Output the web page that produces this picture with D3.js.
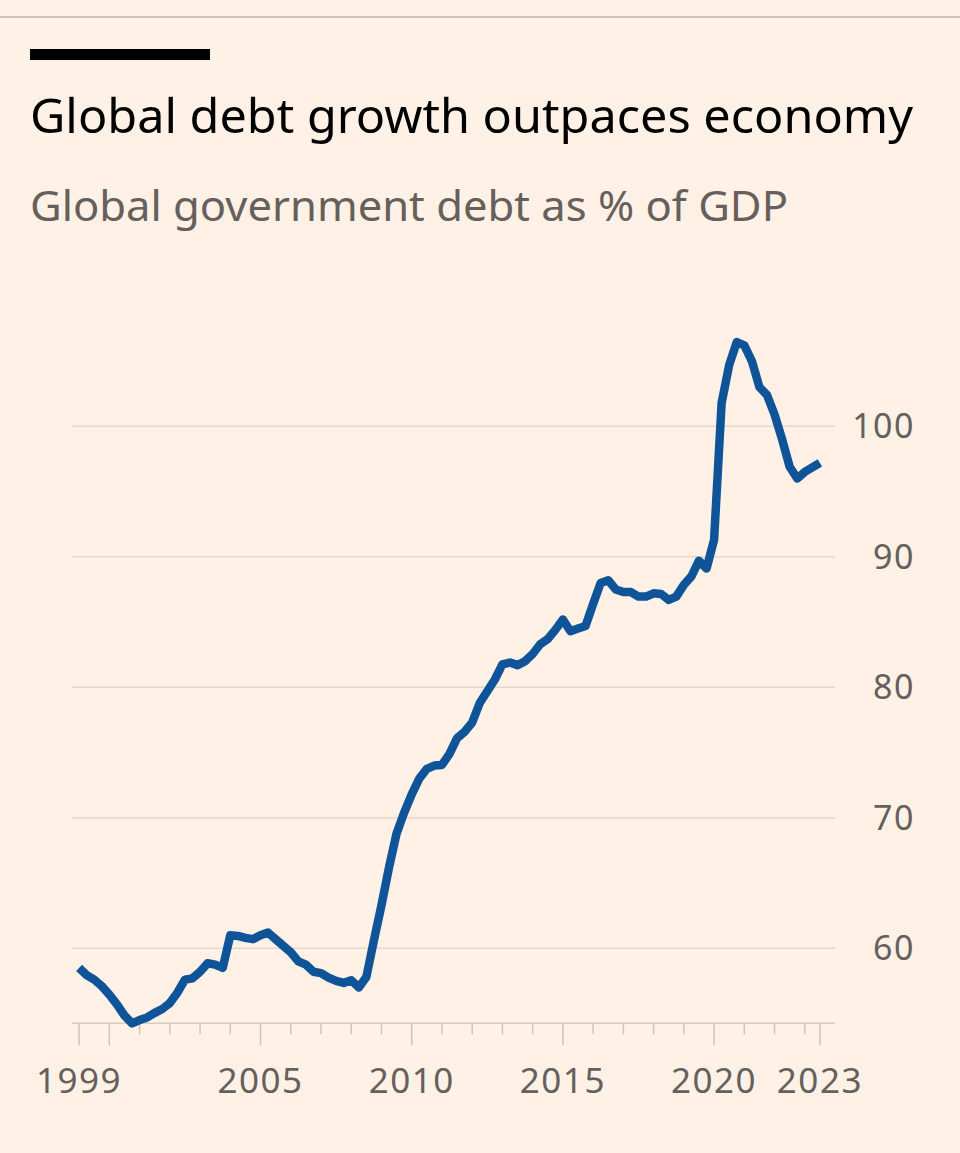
<!DOCTYPE html>
<html>
<head>
<meta charset="utf-8">
<script src="https://cdn.jsdelivr.net/npm/d3@7"></script>
<style>
  html, body { margin: 0; padding: 0; background: #fff1e5; }
  svg { display: block; }
</style>
</head>
<body>
<div id="chart"></div>
<script>
// Data: quarterly, starting 1999 Q1
const START_YEAR = 1999;
const debtPct = [
  58.5, 57.95, 57.6, 57.1, 56.45, 55.7, 54.85, 54.25,
  54.5, 54.7, 55.05, 55.35, 55.8, 56.6, 57.6, 57.7,
  58.2, 58.85, 58.75, 58.5, 61.0, 60.95, 60.8, 60.7,
  61.0, 61.2, 60.7, 60.2, 59.7, 59.0, 58.75, 58.2,
  58.1, 57.75, 57.5, 57.35, 57.55, 57.0, 57.8, 60.6,
  63.3, 66.2, 68.8, 70.4, 71.8, 73.0, 73.75, 74.0,
  74.05, 74.9, 76.1, 76.6, 77.3, 78.8, 79.7, 80.6,
  81.75, 81.9, 81.7, 82.0, 82.55, 83.3, 83.7, 84.4,
  85.2, 84.3, 84.5, 84.7, 86.4, 88.0, 88.2, 87.5,
  87.3, 87.3, 86.95, 86.95, 87.2, 87.15, 86.7, 86.95,
  87.85, 88.5, 89.7, 89.1, 91.3, 101.8, 104.7, 106.45,
  106.2, 105.0, 103.0, 102.4, 100.9, 99.0, 96.9, 96.0,
  96.5, 96.85, 97.2
];
const yTicks = [60, 70, 80, 90, 100];
const minorTickYears = d3.range(1999, 2024);
const labelTicks = [
  { t: 1999, label: "1999" },
  { t: 2005, label: "2005" },
  { t: 2010, label: "2010" },
  { t: 2015, label: "2015" },
  { t: 2020, label: "2020" },
  { t: 2023.5, label: "2023" }
];
const longTickYears = [1999, 2000, 2005, 2010, 2015, 2020, 2023.5];

const TITLE = "Global debt growth outpaces economy";
const SUBTITLE = "Global government debt as % of GDP";

// Layout
const WIDTH = 960, HEIGHT = 1153;
const FONT = "'Noto Sans', 'Open Sans', sans-serif";
const GREY = "#66605c";

const series = debtPct.map((v, i) => ({ t: START_YEAR + i / 4, v }));

const x = d3.scaleLinear().domain([1999, 2023.5]).range([79.1, 819.9]);
const y = d3.scaleLinear().domain([60, 100]).range([948.3, 426.3]);
const baseY = y(d3.min(debtPct));

const svg = d3.select("#chart").append("svg")
  .attr("width", WIDTH)
  .attr("height", HEIGHT)
  .style("background", "#fff1e5");

// Top rule and title block
svg.append("rect").attr("x", 0).attr("y", 16).attr("width", WIDTH).attr("height", 2).attr("fill", "#cec3b9");
svg.append("rect").attr("x", 30).attr("y", 49).attr("width", 180).attr("height", 11).attr("fill", "#000");

svg.append("text")
  .attr("x", 30).attr("y", 133)
  .attr("font-family", FONT).attr("font-size", 48)
  .attr("fill", "#000")
  .attr("textLength", 883).attr("lengthAdjust", "spacingAndGlyphs")
  .text(TITLE);

svg.append("text")
  .attr("x", 30).attr("y", 221)
  .attr("font-family", FONT).attr("font-size", 42)
  .attr("fill", GREY)
  .attr("textLength", 758).attr("lengthAdjust", "spacingAndGlyphs")
  .text(SUBTITLE);

// Gridlines
svg.append("g").selectAll("line")
  .data(yTicks)
  .join("line")
  .attr("x1", 72).attr("x2", 835)
  .attr("y1", d => y(d)).attr("y2", d => y(d))
  .attr("stroke", "#e3d9cf").attr("stroke-width", 1.5);

// Y labels
svg.append("g").selectAll("text")
  .data(yTicks)
  .join("text")
  .attr("x", 915)
  .attr("y", d => y(d) + 12)
  .attr("text-anchor", "end")
  .attr("font-family", FONT).attr("font-size", 34)
  .attr("letter-spacing", 1.5)
  .attr("fill", GREY)
  .text(d => d);

// X axis baseline and ticks
svg.append("line")
  .attr("x1", 72).attr("x2", 835)
  .attr("y1", baseY).attr("y2", baseY)
  .attr("stroke", "#d6ccc2").attr("stroke-width", 1.5);

const tickData = minorTickYears.map(t => ({ t, long: longTickYears.includes(t) }))
  .concat([{ t: 2023.5, long: true }]);

svg.append("g").selectAll("line")
  .data(tickData)
  .join("line")
  .attr("x1", d => x(d.t)).attr("x2", d => x(d.t))
  .attr("y1", baseY)
  .attr("y2", d => baseY + (d.long ? 22 : 11))
  .attr("stroke", "#cfc5bb").attr("stroke-width", 1.5);

svg.append("g").selectAll("text")
  .data(labelTicks)
  .join("text")
  .attr("x", d => x(d.t))
  .attr("y", 1093)
  .attr("text-anchor", "middle")
  .attr("font-family", FONT).attr("font-size", 35)
  .attr("letter-spacing", 1.5)
  .attr("fill", GREY)
  .text(d => d.label);

// Line
const line = d3.line()
  .x(d => x(d.t))
  .y(d => y(d.v));

svg.append("path")
  .datum(series)
  .attr("d", line)
  .attr("fill", "none")
  .attr("stroke", "#0f5499")
  .attr("stroke-width", 8.5)
  .attr("stroke-linejoin", "round")
  .attr("stroke-linecap", "butt");
</script>
</body>
</html>
